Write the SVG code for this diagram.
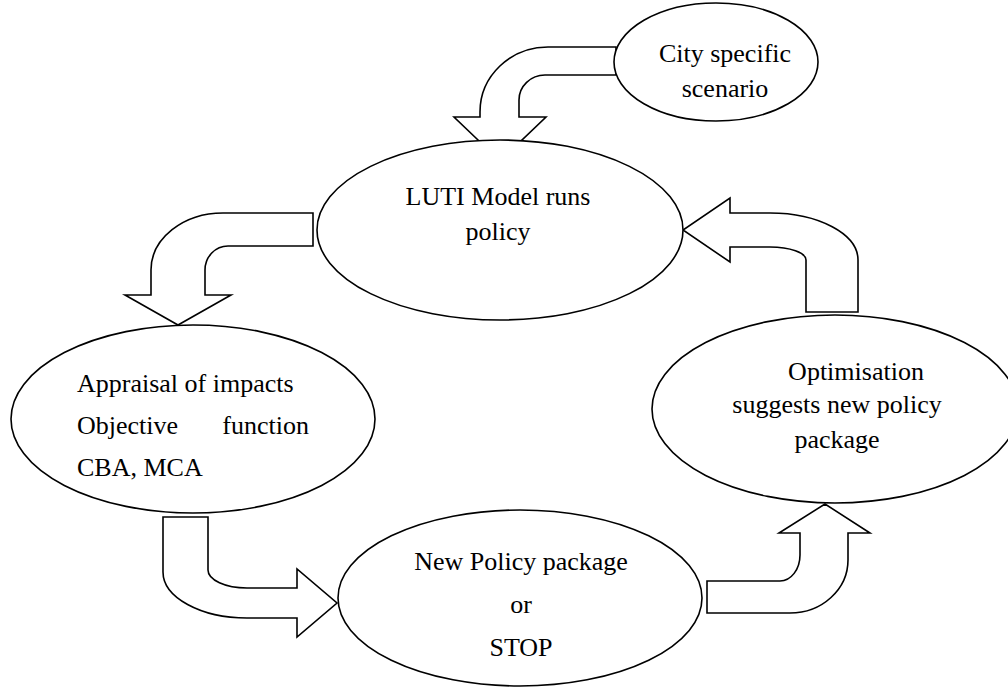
<svg xmlns="http://www.w3.org/2000/svg" width="1008" height="687" viewBox="0 0 1008 687">
<style>
.n{fill:#fff;stroke:#000;stroke-width:1.6}
.a{fill:#fff;stroke:#000;stroke-width:1.6;stroke-linejoin:miter}
.t{font-family:'Liberation Serif','DejaVu Serif',serif;font-size:26px;fill:#000}
.m{text-anchor:middle}
</style>
<rect width="1008" height="687" fill="#fff"/>
<g id="connectors">
<path class="a" d="M616,47 L548,47 A68,65 0 0 0 480,112 L480,117 L454,117 L500,161 L546,117 L519,117 L519,100 A26,25 0 0 1 545,75 L616,75 Z"/>
<path class="a" d="M313,213 L223,213 A72,57 0 0 0 151,270 L151,295 L125,295 L178,325 L231,295 L205,295 L205,270 A23,24 0 0 1 228,246 L313,246 Z"/>
<path class="a" d="M858,312 L858,260 A88,47 0 0 0 770,213 L730,213 L730,198 L683,230 L730,262 L730,247 L770,247 A36,13 0 0 1 806,260 L806,312 Z"/>
<path class="a" d="M163,517 L208,517 L208,570 A39,18 0 0 0 247,588 L297,588 L297,569 L337,603 L297,637 L297,618 L247,618 A84,46 0 0 1 163,572 Z"/>
<path class="a" d="M707,581 L780,581 A20,26 0 0 0 800,555 L800,533 L779,533 L825,504 L870,533 L848,533 L848,560 A58,53 0 0 1 790,613 L707,613 Z"/>
</g>
<g id="city" class="t" font-family="Liberation Serif, DejaVu Serif, serif">
<ellipse class="n" cx="716" cy="62" rx="102" ry="59"/>
<text class="m" x="725" y="62">City specific</text>
<text class="m" x="725" y="97">scenario</text>
</g>
<g id="luti" class="t" font-family="Liberation Serif, DejaVu Serif, serif">
<ellipse class="n" cx="500" cy="230" rx="183" ry="90"/>
<text class="m" x="498" y="205">LUTI Model runs</text>
<text class="m" x="498" y="240">policy</text>
</g>
<g id="appraisal" class="t" font-family="Liberation Serif, DejaVu Serif, serif">
<ellipse class="n" cx="193" cy="419" rx="182" ry="94"/>
<text x="77" y="392">Appraisal of impacts</text>
<text x="77" y="434">Objective</text>
<text x="309" y="434" text-anchor="end">function</text>
<text x="77" y="476">CBA, MCA</text>
</g>
<g id="newpolicy" class="t" font-family="Liberation Serif, DejaVu Serif, serif">
<ellipse class="n" cx="520" cy="598" rx="182" ry="88"/>
<text class="m" x="521" y="570">New Policy package</text>
<text class="m" x="521" y="613">or</text>
<text class="m" x="521" y="656">STOP</text>
</g>
<g id="optimisation" class="t" font-family="Liberation Serif, DejaVu Serif, serif">
<ellipse class="n" cx="835" cy="409" rx="183" ry="94"/>
<text class="m" x="856" y="380">Optimisation</text>
<text class="m" x="837" y="413">suggests new policy</text>
<text class="m" x="837" y="448">package</text>
</g>
</svg>
